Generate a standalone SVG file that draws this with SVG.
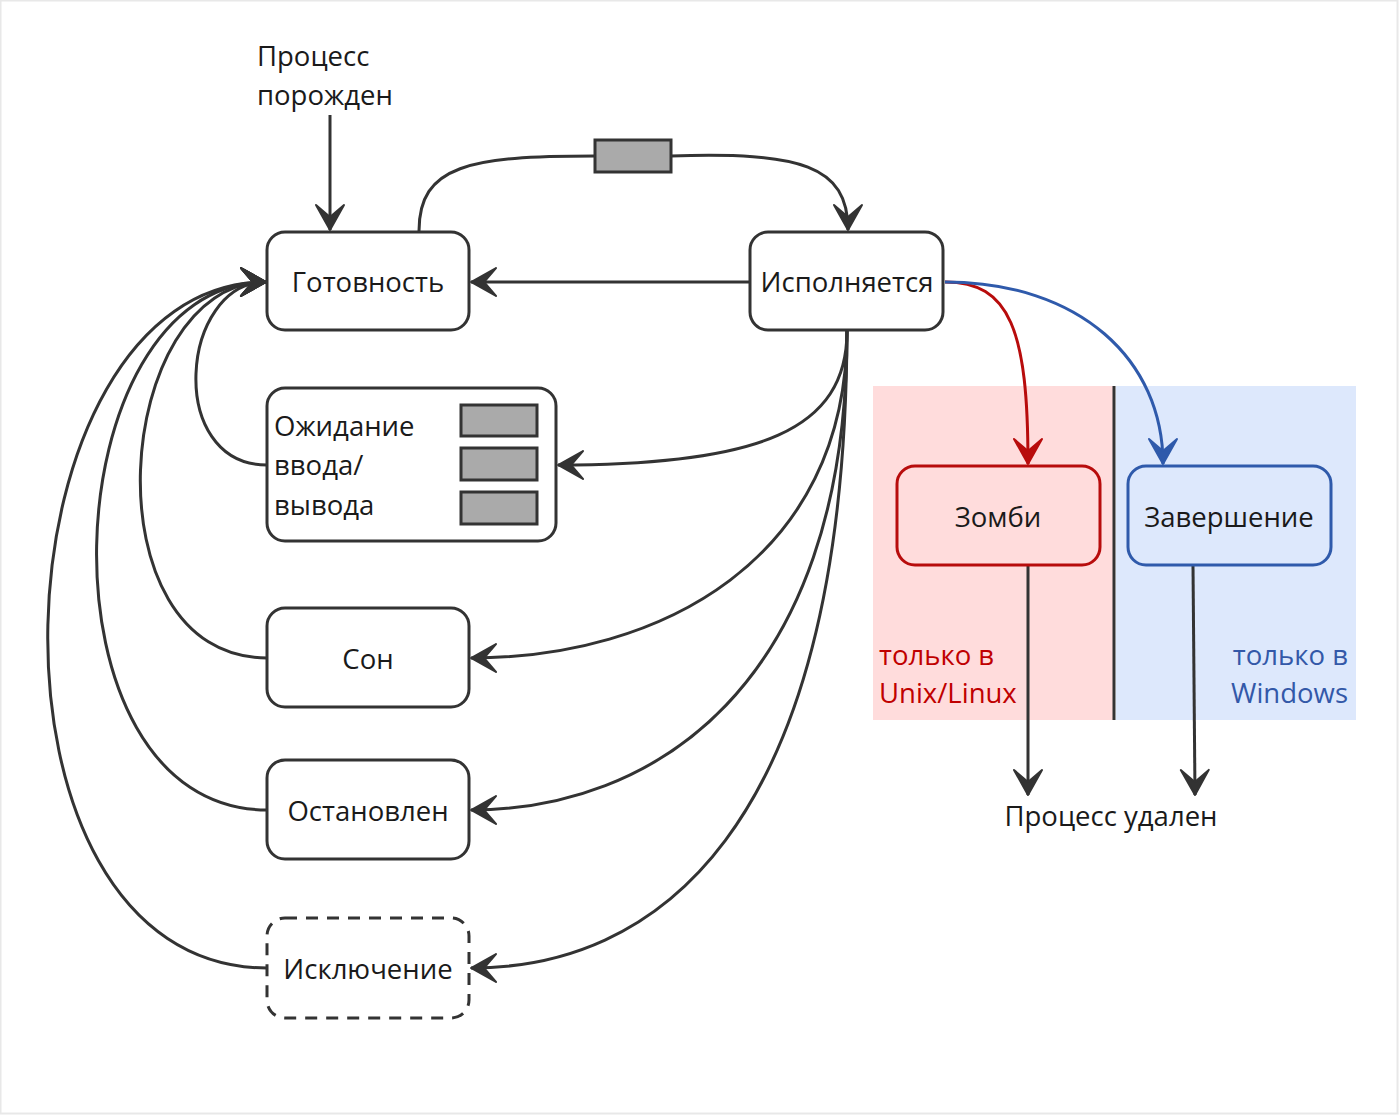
<svg xmlns="http://www.w3.org/2000/svg" width="1399" height="1116" viewBox="0 0 1399 1116">
<style>
.node{fill:#fff;stroke:#333;stroke-width:3}
.t{font-family:"Open Sans","Noto Sans","Liberation Sans",sans-serif;font-size:27.5px;fill:#1a1a1a}
.c{text-anchor:middle}
.edge{fill:none;stroke:#333;stroke-width:3}
.q{fill:#aaa;stroke:#333;stroke-width:3}
</style>
<defs>
<marker id="ah" markerUnits="userSpaceOnUse" markerWidth="32" markerHeight="32" refX="27" refY="15" orient="auto" viewBox="0 0 32 30">
<path d="M27,15 L2,1 L14,15 L2,29 Z" fill="#333" stroke="#333" stroke-width="2" stroke-linejoin="round"/>
</marker>
<marker id="ahr" markerUnits="userSpaceOnUse" markerWidth="32" markerHeight="32" refX="27" refY="15" orient="auto" viewBox="0 0 32 30">
<path d="M27,15 L2,1 L14,15 L2,29 Z" fill="#b80c0c" stroke="#b80c0c" stroke-width="2" stroke-linejoin="round"/>
</marker>
<marker id="ahb" markerUnits="userSpaceOnUse" markerWidth="32" markerHeight="32" refX="27" refY="15" orient="auto" viewBox="0 0 32 30">
<path d="M27,15 L2,1 L14,15 L2,29 Z" fill="#2f5aab" stroke="#2f5aab" stroke-width="2" stroke-linejoin="round"/>
</marker>
</defs>
<rect x="0" y="0" width="1399" height="1116" fill="#fff"/>
<rect x="0.5" y="0.5" width="1397" height="1113" fill="none" stroke="#e8e8e8" stroke-width="2"/>

<g id="zone-unix">
<rect x="873" y="386" width="241" height="334" fill="#ffdcdc"/>
<text class="t" x="879" y="665" style="fill:#c00000">только в</text>
<text class="t" x="879" y="703" style="fill:#c00000">Unix/Linux</text>
</g>
<g id="zone-windows">
<rect x="1116" y="386" width="240" height="334" fill="#dde8fc"/>
<text class="t" x="1348" y="665" text-anchor="end" style="fill:#3358a8">только в</text>
<text class="t" x="1348" y="703" text-anchor="end" style="fill:#3358a8">Windows</text>
</g>
<line x1="1114" y1="386" x2="1114" y2="720" stroke="#333" stroke-width="3"/>

<g id="connectors">
<path class="edge" d="M330,115 L330,230" marker-end="url(#ah)"/>
<path class="edge" d="M419,231 C419,165 470,156 595,156"/>
<path class="edge" d="M671,156 C800,152 848,165 848,230" marker-end="url(#ah)"/>
<path class="edge" d="M750,282 L471,282" marker-end="url(#ah)"/>
<path class="edge" d="M847,331 C847,430 760,465 558,465" marker-end="url(#ah)"/>
<path class="edge" d="M847,331 C847,560 660,658 471,658" marker-end="url(#ah)"/>
<path class="edge" d="M847,331 C847,690 650,810 471,810" marker-end="url(#ah)"/>
<path class="edge" d="M847,331 C845,840 650,968 471,968" marker-end="url(#ah)"/>
<path class="edge" d="M267,465 C165,465 180,282 266,282" marker-end="url(#ah)"/>
<path class="edge" d="M267,658 C85,658 112,282 266,282" marker-end="url(#ah)"/>
<path class="edge" d="M267,810 C30,810 50,282 266,282" marker-end="url(#ah)"/>
<path class="edge" d="M267,968 C-40,968 -10,282 266,282" marker-end="url(#ah)"/>
<path d="M945,282 C1010,282 1028,330 1028,464" fill="none" stroke="#b80c0c" stroke-width="3" marker-end="url(#ahr)"/>
<path d="M945,282 C1080,282 1163,360 1163,464" fill="none" stroke="#2f5aab" stroke-width="3" marker-end="url(#ahb)"/>
<path class="edge" d="M1028,566 L1028,795" marker-end="url(#ah)"/>
<path class="edge" d="M1193,566 L1195,795" marker-end="url(#ah)"/>
</g>

<g id="label-spawn">
<text class="t" x="257" y="66">Процесс</text>
<text class="t" x="257" y="105">порожден</text>
</g>
<g id="queue-top"><rect class="q" x="595" y="140" width="76" height="32"/></g>

<g id="node-ready">
<rect class="node" x="267" y="232" width="202" height="98" rx="18"/>
<text class="t c" x="368" y="292">Готовность</text>
</g>
<g id="node-running">
<rect class="node" x="750" y="232" width="193" height="98" rx="18"/>
<text class="t c" x="847" y="292">Исполняется</text>
</g>
<g id="node-io">
<rect class="node" x="267" y="388" width="289" height="153" rx="18"/>
<text class="t" x="274" y="436">Ожидание</text>
<text class="t" x="274" y="475">ввода/</text>
<text class="t" x="274" y="515">вывода</text>
<rect class="q" x="461" y="405" width="76" height="31"/>
<rect class="q" x="461" y="448" width="76" height="32"/>
<rect class="q" x="461" y="492" width="76" height="32"/>
</g>
<g id="node-sleep">
<rect class="node" x="267" y="608" width="202" height="99" rx="18"/>
<text class="t c" x="368" y="669">Сон</text>
</g>
<g id="node-stopped">
<rect class="node" x="267" y="760" width="202" height="99" rx="18"/>
<text class="t c" x="368" y="821">Остановлен</text>
</g>
<g id="node-exception">
<rect class="node" x="267" y="918" width="202" height="100" rx="18" stroke-dasharray="12 9"/>
<text class="t c" x="368" y="979">Исключение</text>
</g>
<g id="node-zombie">
<rect x="897" y="466" width="203" height="99" rx="18" fill="#ffdcdc" stroke="#b80c0c" stroke-width="3"/>
<text class="t c" x="998" y="527">Зомби</text>
</g>
<g id="node-finish">
<rect x="1128" y="466" width="203" height="99" rx="18" fill="#dde8fc" stroke="#2f5aab" stroke-width="3"/>
<text class="t c" x="1229" y="527">Завершение</text>
</g>
<g id="label-removed">
<text class="t c" x="1111" y="826">Процесс удален</text>
</g>
</svg>
